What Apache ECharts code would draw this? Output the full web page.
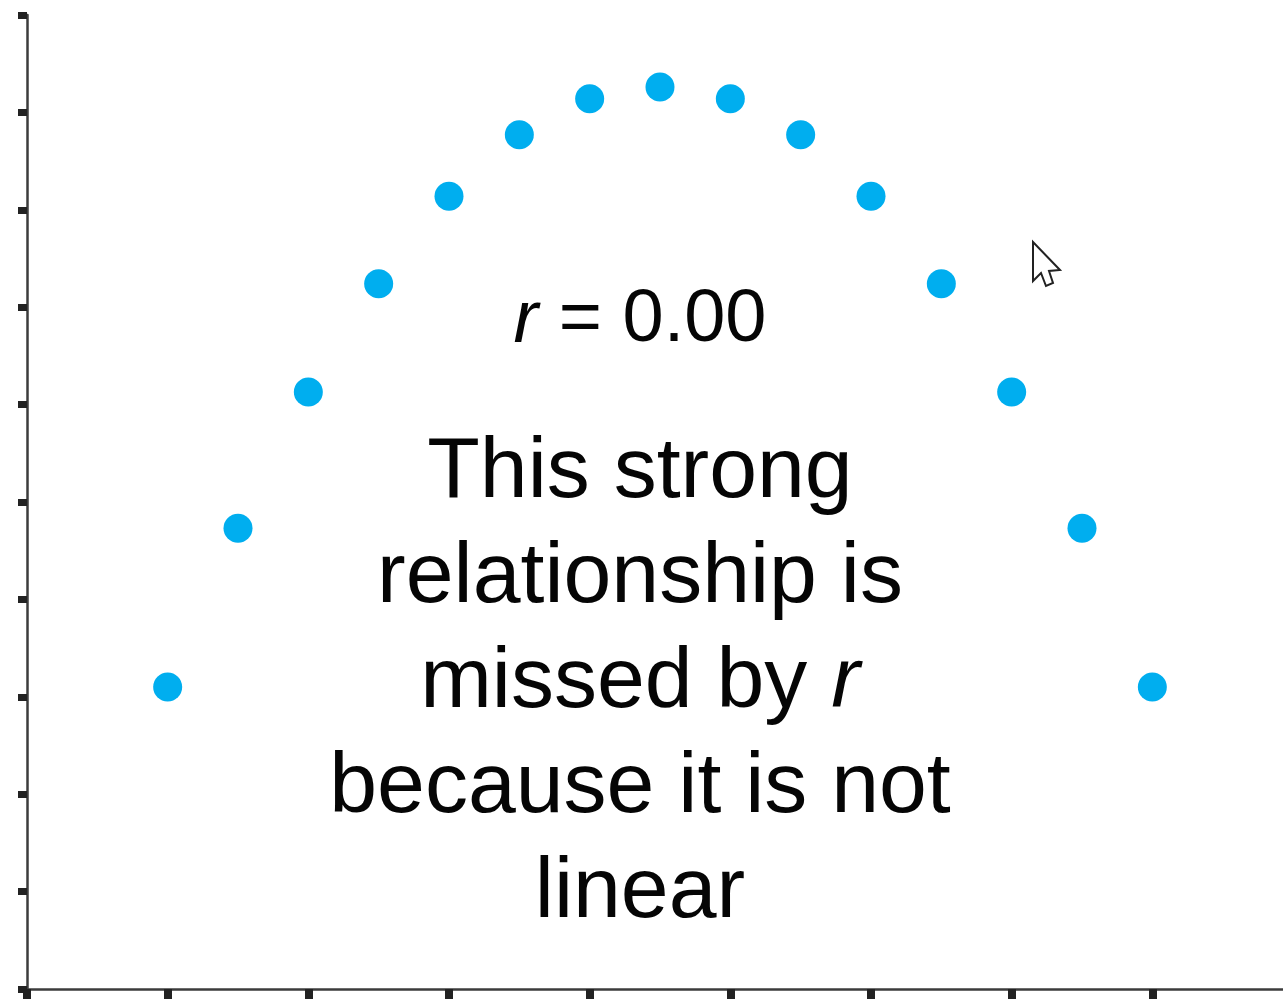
<!DOCTYPE html>
<html>
<head>
<meta charset="utf-8">
<title>r = 0.00 — curved relationship</title>
<script src="https://cdn.jsdelivr.net/npm/echarts@6/dist/echarts.min.js"></script>
<style>
  html, body { margin: 0; padding: 0; background: #fff; overflow: hidden; }
  /* the x axis runs on past the right edge of the page */
  #chart { width: 1293px; height: 1000px; }
</style>
</head>
<body>
<div id="chart"></div>
<script>
// Points along an arch: x rises steadily, y climbs then falls
const xValues = [1, 1.5, 2, 2.5, 3, 3.5, 4, 4.5, 5, 5.5, 6, 6.5, 7, 7.5, 8];
const yValues = [3.1, 4.73, 6.13, 7.24, 8.14, 8.77, 9.14, 9.26, 9.14, 8.77, 8.14, 7.24, 6.13, 4.73, 3.1];

const noteLines = ['This strong', 'relationship is', 'missed by {i|r}', 'because it is not', 'linear'];

const FONT = '"Liberation Sans", Arial, Helvetica, sans-serif';
const AXIS = '#3c3c3c';
const TICK = '#222';
const INK = '#050505';
const TEXT_X = 640;

const chart = echarts.init(document.getElementById('chart'), null, { renderer: 'canvas' });

const points = xValues.map((x, i) => [x, yValues[i]]);

chart.setOption({
  backgroundColor: '#ffffff',
  animation: false,
  grid: { left: 27, right: 0, top: 15, bottom: 11, containLabel: false },
  xAxis: {
    type: 'value',
    min: 0, max: 9, interval: 1,
    axisLine: { show: true, lineStyle: { color: AXIS, width: 2.5 } },
    axisTick: { show: true, inside: false, length: 10, lineStyle: { color: TICK, width: 8 } },
    axisLabel: { show: false },
    splitLine: { show: false }
  },
  yAxis: {
    type: 'value',
    min: 0, max: 10, interval: 1,
    axisLine: { show: true, lineStyle: { color: AXIS, width: 2.5 } },
    axisTick: { show: true, inside: false, length: 9, lineStyle: { color: TICK, width: 7 } },
    axisLabel: { show: false },
    splitLine: { show: false }
  },
  series: [{
    type: 'scatter',
    data: points,
    symbol: 'circle',
    symbolSize: 29,
    itemStyle: { color: '#00AEEF', opacity: 1 },
    silent: true
  }],
  graphic: [
    {
      type: 'text',
      x: TEXT_X,
      y: 284,
      style: {
        text: '{i|r} = 0.00',
        font: '74px ' + FONT,
        fill: INK,
        align: 'center',
        verticalAlign: 'top',
        rich: {
          i: { fontStyle: 'italic', fontSize: 74, fontFamily: FONT, fill: INK }
        }
      },
      silent: true
    },
    {
      type: 'text',
      x: TEXT_X,
      y: 421,
      style: {
        text: noteLines.join('\n'),
        font: '86px ' + FONT,
        fill: INK,
        align: 'center',
        verticalAlign: 'top',
        lineHeight: 105,
        rich: {
          i: { fontStyle: 'italic', fontSize: 86, fontFamily: FONT, fill: INK, lineHeight: 105 }
        }
      },
      silent: true
    },
    {
      // mouse pointer glyph
      type: 'polygon',
      shape: {
        points: [[1033, 242], [1033, 281], [1041, 273], [1046, 286], [1053, 283], [1049, 271], [1060, 270]]
      },
      style: { fill: '#ffffff', stroke: '#222', lineWidth: 2 },
      silent: true
    }
  ]
});
</script>
</body>
</html>
